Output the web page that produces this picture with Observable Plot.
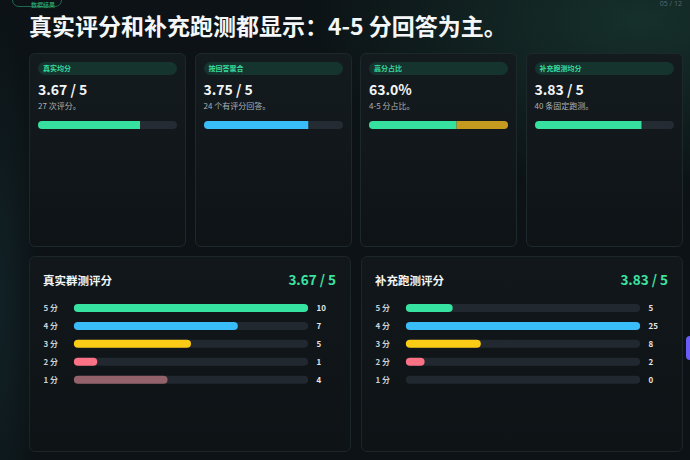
<!DOCTYPE html>
<html><head><meta charset="utf-8">
<script src="https://cdn.jsdelivr.net/npm/d3@7"></script>
<script src="https://cdn.jsdelivr.net/npm/@observablehq/plot@0.6"></script>
<style>
html,body{margin:0;padding:0;}
body{width:690px;height:460px;overflow:hidden;position:relative;
 font-family:"Noto Sans CJK SC","Noto Sans",sans-serif;color:#fff;
 background:
  radial-gradient(ellipse 340px 170px at 640px 20px, rgba(28,68,58,0.6), rgba(28,68,58,0) 100%),
  radial-gradient(ellipse 40px 300px at 0px 300px, rgba(22,48,54,0.5), rgba(22,48,54,0) 100%),
  #0c1215;}
.logo{position:absolute;left:12px;top:-12px;width:48px;height:17px;border:1px solid #1d6a4f;border-radius:7px;}
.logotext{position:absolute;left:31px;top:1px;font-size:6px;line-height:8px;color:#2fbf86;}
.page{position:absolute;right:8px;top:0px;font-size:7px;line-height:8px;color:#55666b;font-family:"Noto Sans",sans-serif;}
.title{position:absolute;left:29px;top:14px;font-size:23px;line-height:23px;font-weight:700;color:#f4f6f7;white-space:nowrap;}
.card{position:absolute;top:53px;width:157px;height:194px;box-sizing:border-box;border:1px solid #1d282c;border-radius:6px;
 background:linear-gradient(180deg,#141b1f 0%,#0e1316 100%);}
.pill{position:absolute;left:8px;right:8px;top:8px;height:13px;border-radius:6.5px;background:#15342e;color:#38dda0;font-size:7px;line-height:13px;padding-left:5px;font-weight:600;}
.kval{position:absolute;left:8px;top:28px;font-size:14px;line-height:14px;font-weight:700;color:#f3f5f6;}
.knote{position:absolute;left:8px;top:48px;font-size:8px;line-height:8px;color:#a9b2b7;}
.kbar{position:absolute;left:8px;top:67px;width:139px;height:8px;border-radius:4px;overflow:hidden;background:#252b32;}
.kbar svg{display:block;}
.panel{position:absolute;top:256px;height:196px;width:322px;box-sizing:border-box;border:1px solid #1c2529;border-radius:6px;
 background:linear-gradient(180deg,#11171a 0%,#0e1316 100%);}
.ptitle{position:absolute;left:13px;top:18px;font-size:11.5px;line-height:11.5px;font-weight:700;color:#f2f4f5;}
.ptotal{position:absolute;right:14px;top:16px;font-size:13.5px;line-height:13.5px;font-weight:700;color:#3ee3a2;}
.pplot{position:absolute;left:-1px;top:36px;}
.pplot svg{display:block;overflow:visible;}
.tab{position:absolute;left:686px;top:336px;width:10px;height:24px;border-radius:4px;background:#6a5cf6;}
</style>
</head><body>
<div class="logo"></div><div class="logotext">数据结果</div>
<div class="page" id="page"></div>
<div class="title" id="title"></div>
<div id="cards"></div>
<div id="panels"></div>
<div class="tab"></div>
<script>
// ---- data ----
const pageLabel = "05 / 12";
const titleText = "真实评分和补充跑测都显示：4-5 分回答为主。";

const kpiLabels = ["真实均分", "按回答聚合", "高分占比", "补充跑测均分"];
const kpiValueText = ["3.67 / 5", "3.75 / 5", "63.0%", "3.83 / 5"];
const kpiNotes = ["27 次评分。", "24 个有评分回答。", "4-5 分占比。", "40 条固定跑测。"];
const kpiScores = [3.67, 3.75, 63.0, 3.83];
const kpiMax = [5, 5, 100, 5];
const kpiColors = ["#36e09f", "#38bdf8", "#36e09f", "#36e09f"];
const kpiRestColors = [null, null, "#c49b1e", null];

const ratingLabels = ["5 分", "4 分", "3 分", "2 分", "1 分"];
const ratingColors = ["#37e3a0", "#38bdf8", "#facc15", "#fb7185", "#93626a"];
const realCounts = [10, 7, 5, 1, 4];
const runCounts = [5, 25, 8, 2, 0];
const panelTitles = ["真实群测评分", "补充跑测评分"];
const panelTotals = ["3.67 / 5", "3.83 / 5"];

// ---- layout ----
document.getElementById("page").textContent = pageLabel;
document.getElementById("title").textContent = titleText;

const cardLefts = [29, 194.5, 360, 525.5];
const cardsEl = document.getElementById("cards");
kpiLabels.forEach((lab, i) => {
  const c = document.createElement("div");
  c.className = "card";
  c.style.left = cardLefts[i] + "px";
  c.innerHTML = `<div class="pill"></div><div class="kval"></div><div class="knote"></div><div class="kbar"></div>`;
  c.querySelector(".pill").textContent = lab;
  c.querySelector(".kval").textContent = kpiValueText[i];
  c.querySelector(".knote").textContent = kpiNotes[i];
  const segs = [{v: kpiScores[i], c: kpiColors[i]}];
  if (kpiRestColors[i]) segs.push({v: kpiMax[i] - kpiScores[i], c: kpiRestColors[i]});
  const p = Plot.plot({
    width: 139, height: 8, margin: 0,
    x: {domain: [0, kpiMax[i]], axis: null},
    color: {type: "identity"},
    style: {background: "transparent"},
    marks: [Plot.barX(segs, {x: "v", fill: "c"})]
  });
  c.querySelector(".kbar").appendChild(p);
  cardsEl.appendChild(c);
});

const panelLefts = [29, 361];
const panelData = [realCounts, runCounts];
const panelsEl = document.getElementById("panels");
panelTitles.forEach((t, k) => {
  const el = document.createElement("div");
  el.className = "panel";
  el.style.left = panelLefts[k] + "px";
  el.innerHTML = `<div class="ptitle"></div><div class="ptotal"></div><div class="pplot"></div>`;
  el.querySelector(".ptitle").textContent = t;
  el.querySelector(".ptotal").textContent = panelTotals[k];
  const counts = panelData[k];
  const mx = d3.max(counts);
  const rows = ratingLabels.map((l, i) => ({label: l, count: counts[i], max: mx}));
  const p = Plot.plot({
    width: 322, height: 103,
    marginLeft: 45, marginRight: 42, marginTop: 0, marginBottom: 0,
    x: {domain: [0, mx], axis: null},
    y: {domain: ratingLabels, padding: 0.55, axis: null},
    color: {domain: ratingLabels, range: ratingColors},
    style: {background: "transparent", fontFamily: '"Noto Sans CJK SC","Noto Sans",sans-serif', fontSize: "8px", color: "#cdd4d8", overflow: "visible"},
    marks: [
      Plot.barX(rows, {y: "label", x1: 0, x2: "max", fill: "#22282f", rx: 4.2}),
      Plot.barX(rows, {y: "label", x1: 0, x2: "count", fill: "label", rx: 4.2}),
      Plot.text(rows, {y: "label", text: "label", frameAnchor: "left", textAnchor: "start", dx: -31, fontWeight: 600, fill: "#c9d0d4"}),
      Plot.text(rows, {y: "label", text: d => String(d.count), frameAnchor: "right", textAnchor: "start", dx: 8, fontWeight: 600, fill: "#e4e8ea"})
    ]
  });
  el.querySelector(".pplot").appendChild(p);
  panelsEl.appendChild(el);
});
</script>
</body></html>
